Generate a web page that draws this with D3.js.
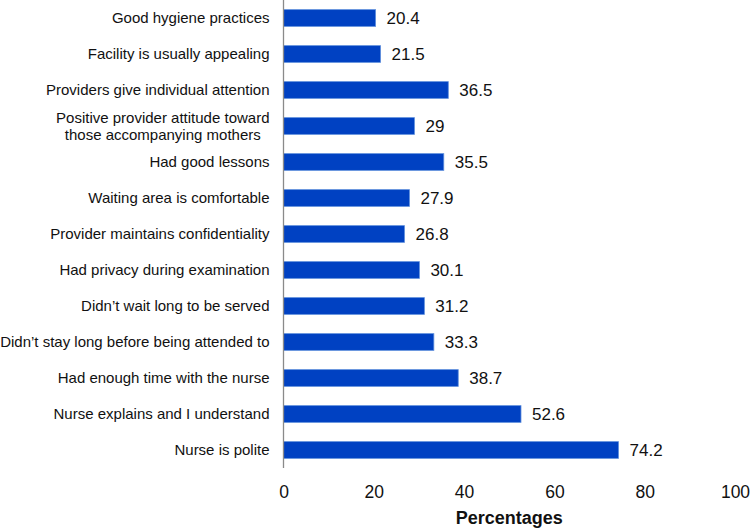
<!DOCTYPE html>
<html><head><meta charset="utf-8">
<script src="https://cdn.jsdelivr.net/npm/d3@7"></script>
<style>body{margin:0;background:#fff}svg{display:block;font-family:Arial,"Liberation Sans",sans-serif}</style>
</head><body><svg id="c" width="750" height="531"></svg>
<script>
const categories = [
  ["Good hygiene practices"],
  ["Facility is usually appealing"],
  ["Providers give individual attention"],
  ["Positive provider attitude toward","those accompanying mothers"],
  ["Had good lessons"],
  ["Waiting area is comfortable"],
  ["Provider maintains confidentiality"],
  ["Had privacy during examination"],
  ["Didn\u2019t wait long to be served"],
  ["Didn\u2019t stay long before being attended to"],
  ["Had enough time with the nurse"],
  ["Nurse explains and I understand"],
  ["Nurse is polite"]
];
const values = [20.4, 21.5, 36.5, 29, 35.5, 27.9, 26.8, 30.1, 31.2, 33.3, 38.7, 52.6, 74.2];
const xTicks = [0, 20, 40, 60, 80, 100];
const xTitle = "Percentages";

const svg = d3.select("#c");
const x = d3.scaleLinear().domain([0, 100]).range([283.5, 735]);
const y = d3.scaleBand().domain(d3.range(categories.length)).range([0, 468]).paddingInner(0.535).paddingOuter(0.2675);
const labelRight = 269.5;

svg.selectAll("rect.bar").data(values).join("rect")
  .attr("class","bar")
  .attr("x", x(0)).attr("y", (d,i)=>y(i))
  .attr("width", d=>x(d)-x(0)).attr("height", y.bandwidth())
  .attr("fill","#0041c2").attr("stroke","#5f8fdc").attr("stroke-width",0.8);

svg.append("line").attr("x1",x(0)).attr("x2",x(0)).attr("y1",0).attr("y2",468)
  .attr("stroke","#8a8a8a").attr("stroke-width",1.3);

svg.selectAll("text.val").data(values).join("text")
  .attr("class","val")
  .attr("x", d=>x(d)+11).attr("y", (d,i)=>y(i)+y.bandwidth()/2)
  .attr("dy","0.36em").attr("font-size",17).attr("fill","#111")
  .text(d=>d);

const cat = svg.selectAll("text.cat").data(categories).join("text")
  .attr("class","cat")
  .attr("font-size",15).attr("fill","#111")
  .attr("y",(d,i)=>y(i)+y.bandwidth()/2);
cat.each(function(d){
  const t = d3.select(this);
  const n = d.length;
  const spans = d.map((line,k)=> t.append("tspan")
     .attr("dy", k===0 ? (0.36 - (n-1)*0.55)+"em" : "1.1em")
     .text(line));
  if (n === 1) {
    t.attr("text-anchor","end");
    spans[0].attr("x", labelRight);
  } else {
    const w = d3.max(spans, s=>s.node().getComputedTextLength());
    t.attr("text-anchor","middle");
    spans.forEach(s=>s.attr("x", labelRight - w/2));
  }
});

const xAxis = d3.axisBottom(x).tickValues(xTicks).tickSize(0).tickPadding(0);
const gx = svg.append("g").attr("transform","translate(0,485.5)").call(xAxis);
gx.select(".domain").remove();
gx.selectAll("text").attr("font-size",17.5).attr("fill","#111").attr("font-family","Arial,'Liberation Sans',sans-serif").attr("dy","0.71em");

svg.append("text").attr("x",(x(0)+x(100))/2).attr("y",523.5).attr("text-anchor","middle")
  .attr("font-size",18).attr("font-weight","bold").attr("fill","#111").text(xTitle);
</script></body></html>
